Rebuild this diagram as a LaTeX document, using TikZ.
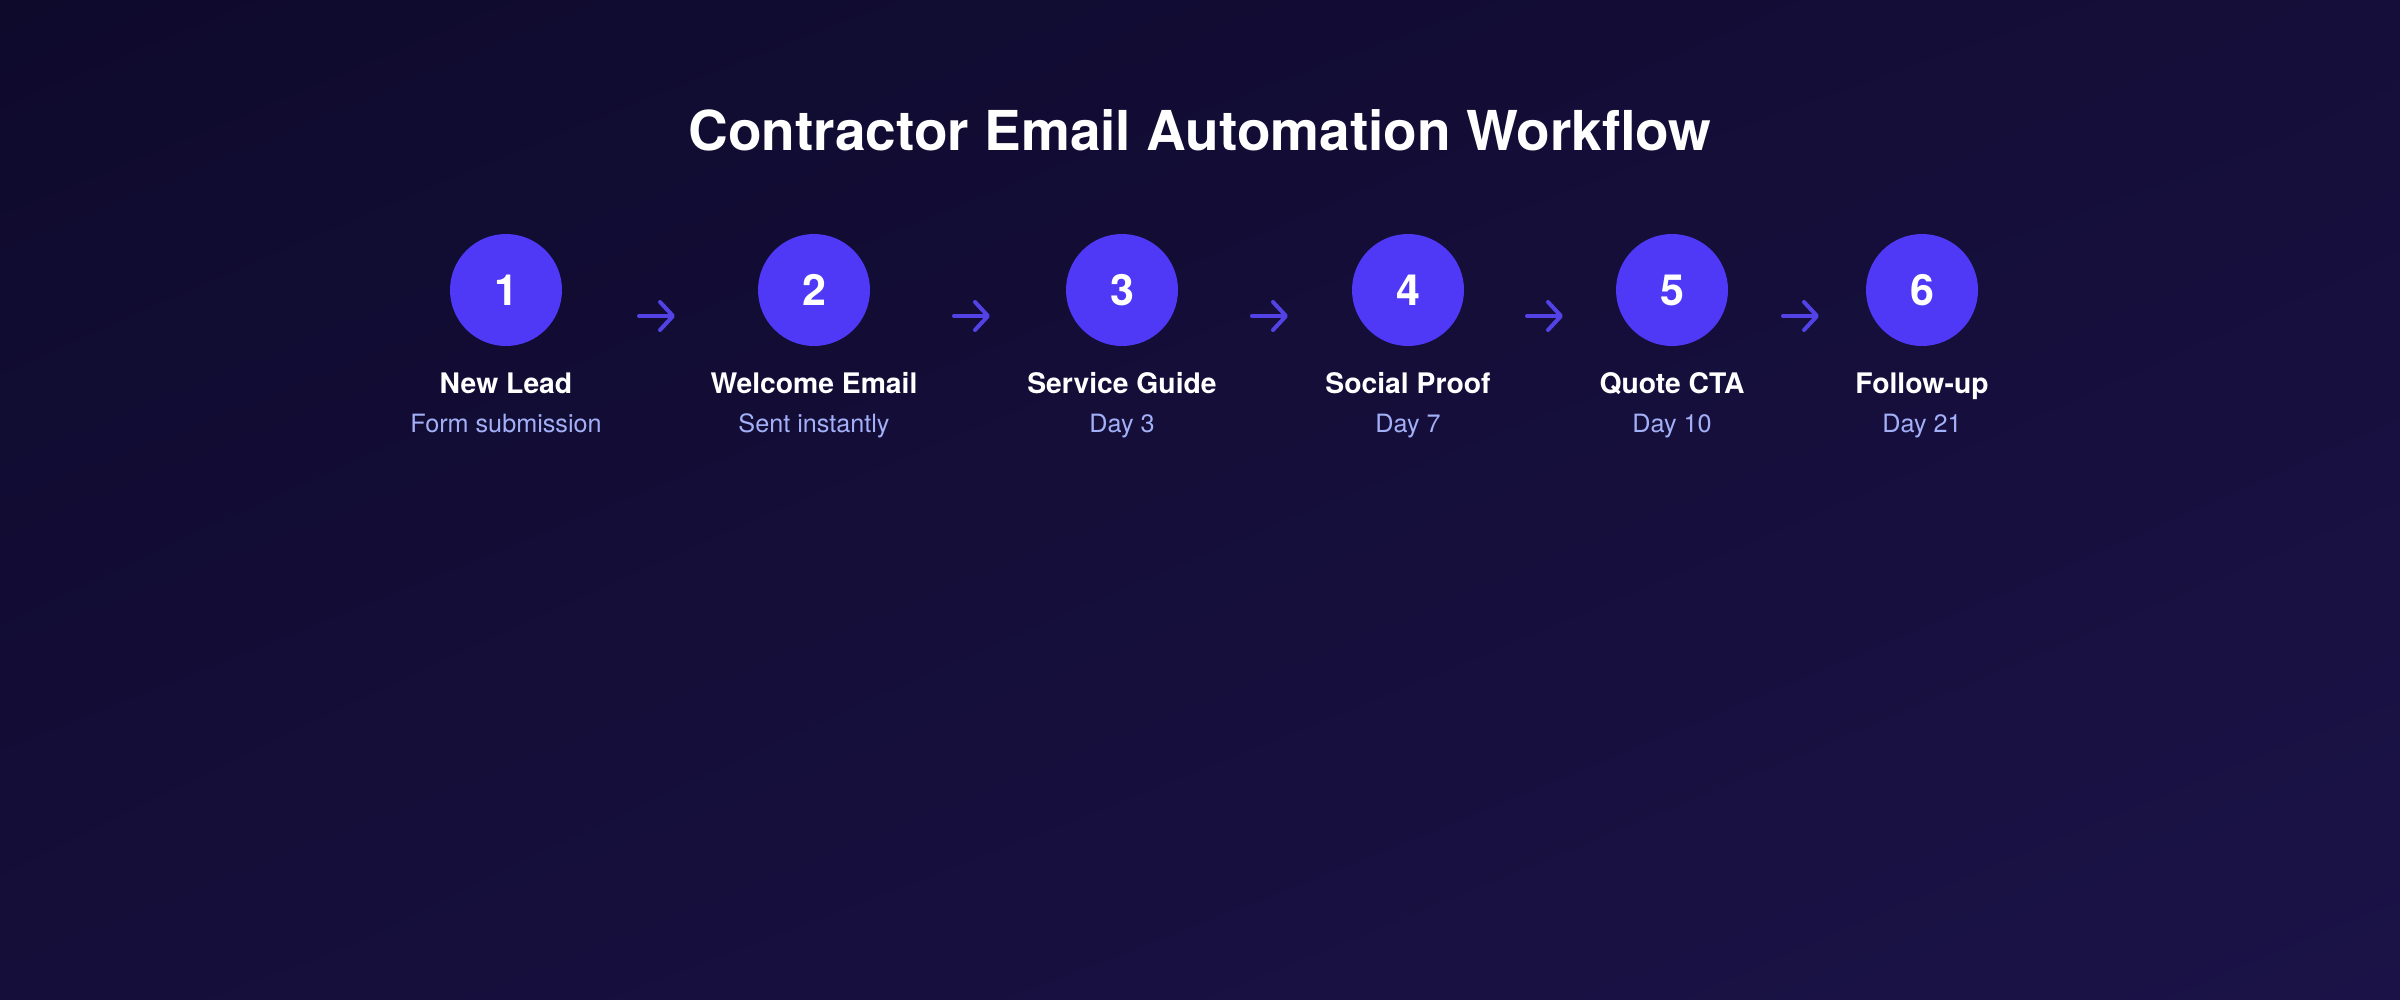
\documentclass[tikz,border=0pt]{standalone}
\usepackage{fontspec}
\setmainfont{TeX Gyre Heros}
\usetikzlibrary{arrows.meta,calc,shadings}
\definecolor{bgA}{HTML}{0E0A2C}
\definecolor{bgM}{HTML}{150E3A}
\definecolor{bgB}{HTML}{1B1347}
\definecolor{stepc}{HTML}{4F39F6}
\definecolor{arrc}{HTML}{5343E6}
\definecolor{subc}{HTML}{A3B0F8}
\begin{document}
\begin{tikzpicture}[x=1pt,y=-1pt,
  stepcircle/.style={circle, fill=stepc, minimum size=112pt, inner sep=0pt,
    text=white, font=\fontsize{43}{43}\selectfont\bfseries},
  ttl/.style={font=\fontsize{28.3}{30}\selectfont\bfseries, text=white, anchor=base, inner sep=0pt},
  sub/.style={font=\fontsize{25.2}{28}\selectfont, text=subc, anchor=base, inner sep=0pt},
  flow/.style={draw=arrc, line width=4pt, line cap=round,
    -{Straight Barb[length=13pt,width=28pt,line cap=round,line join=round]}}]
\useasboundingbox (0,0) rectangle (2400,1000);
\shade[upper left=bgA, upper right=bgM, lower left=bgM, lower right=bgB] (0,0) rectangle (2400,1000);
\node[font=\fontsize{55}{60}\selectfont\bfseries, text=white, anchor=base, inner sep=0pt] (title) at (1200,151) {Contractor Email Automation Workflow};
\foreach \i/\x/\t/\s in {1/506/New Lead/Form submission,
                         2/814/Welcome Email/Sent instantly,
                         3/1122/Service Guide/Day 3,
                         4/1408/Social Proof/Day 7,
                         5/1672/Quote CTA/Day 10,
                         6/1922/Follow-up/Day 21}{
  \node[stepcircle] (c\i) at (\x,290) {\i};
  \node[ttl] (t\i) at (\x,393) {\t};
  \node[sub] (s\i) at (\x,432) {\s};
}
\foreach \a/\b/\d in {1/2/-3,2/3/4,3/4/5,4/5/5,5/6/4}
  \draw[flow] ($(c\a)!0.5!(c\b)+(\d-18,26)$) -- ($(c\a)!0.5!(c\b)+(\d+18,26)$);
\end{tikzpicture}
\end{document}
